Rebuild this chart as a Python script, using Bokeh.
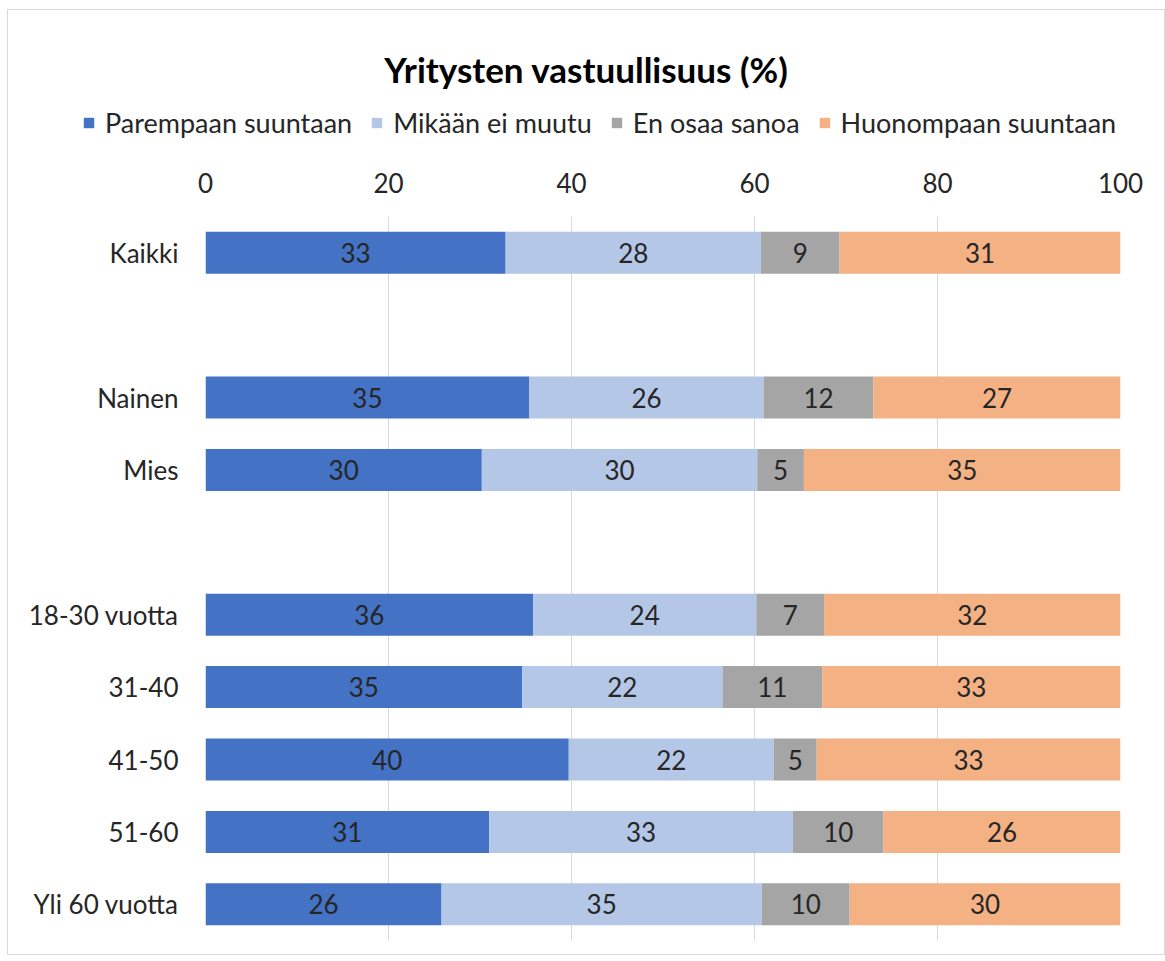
from bokeh.plotting import figure
from bokeh.layouts import column
from bokeh.models import (ColumnDataSource, Legend, LegendItem, FixedTicker, Range1d, LabelSet)
from bokeh.core.properties import value
from bokeh.embed import file_html
from bokeh.resources import INLINE

# ---- data ----
groups = [["Kaikki"], ["Nainen", "Mies"],
          ["18-30 vuotta", "31-40", "41-50", "51-60", "Yli 60 vuotta"]]
series = ["Parempaan suuntaan", "Mikään ei muutu", "En osaa sanoa", "Huonompaan suuntaan"]
parempaan = [32.8, 35.4, 30.2, 35.8, 34.6, 39.7, 31.0, 25.8]
mikaan = [27.9, 25.6, 30.1, 24.4, 21.9, 22.4, 33.2, 35.0]
en_osaa = [8.6, 12.0, 5.1, 7.4, 10.9, 4.7, 9.9, 9.6]
huonompaan = [30.7, 27.0, 34.6, 32.4, 32.6, 33.2, 25.9, 29.6]
x_ticks = [0, 20, 40, 60, 80, 100]
title_text = "Yritysten vastuullisuus (%)"

colors = ["#4472C4", "#B4C7E7", "#A5A5A5", "#F4B183"]
FONT = "Lato"
TXT = "#262626"
FS = "26px"

# derived row positions: one empty row between groups
cats, ypos = [], []
slot = 0
for gi, g in enumerate(groups):
    if gi > 0:
        slot += 1
    for c in g:
        cats.append(c)
        ypos.append(slot)
        slot += 1
n_slots = slot

vals = [parempaan, mikaan, en_osaa, huonompaan]
keys = ["s0", "s1", "s2", "s3"]
data = {"y": ypos, "cat": cats}
for k, v in zip(keys, vals):
    data[k] = v
src = ColumnDataSource(data)

W = 1156

# ---------- header: title + legend ----------
head = figure(width=W, height=147, output_backend="svg", toolbar_location=None,
              x_range=Range1d(0, 1), y_range=Range1d(0, 1),
              x_axis_location=None, y_axis_location=None,
              min_border_left=0, min_border_right=0, min_border_bottom=0, min_border_top=79)
head.frame_align = False
head.grid.visible = False
head.outline_line_color = None
head.title.text = title_text
head.title.align = "center"
head.title.offset = -3
head.title.text_font = FONT
head.title.text_font_size = "35px"
head.title.text_font_style = "bold"
head.title.text_color = "#000000"
head.title.standoff = 0

# hidden copies of the series, used only for the legend swatches
leg_r = head.hbar_stack(keys, y="y", height=0.58, color=colors, line_color=None, source=src)
for r in leg_r:
    r.visible = False
legend = Legend(items=[LegendItem(label=s, renderers=[r]) for s, r in zip(series, leg_r)],
                orientation="horizontal", location=(74, 18),
                label_text_font=FONT, label_text_font_size="27px", label_text_color=TXT,
                glyph_width=13, glyph_height=13, label_standoff=10, spacing=18,
                inactive_fill_alpha=0,
                border_line_color=None, background_fill_alpha=0, padding=0, margin=0)
head.add_layout(legend, "center")

# ---------- main chart ----------
p = figure(frame_width=915, frame_height=724, output_backend="svg", toolbar_location=None,
           x_range=Range1d(0, 100), y_range=Range1d(n_slots - 0.5, -0.5),
           x_axis_location="above",
           min_border_left=197, min_border_right=W - 197 - 915, min_border_bottom=14,
           min_border_top=59)
p.frame_align = False

p.hbar_stack(keys, y="y", height=0.58, color=colors, line_color=None, source=src)

# labels
lx, ly, lt = [], [], []
for i in range(len(cats)):
    left = 0.0
    for v in vals:
        v_i = v[i]
        lx.append(left + v_i / 2)
        ly.append(ypos[i])
        lt.append(str(int(v_i + 0.5)))
        left += v_i
lsrc = ColumnDataSource(dict(x=lx, y=ly, t=lt))
p.add_layout(LabelSet(x="x", y="y", text="t", source=lsrc, text_align="center",
                      text_baseline="middle", text_font=value(FONT), text_font_size=FS,
                      text_color=TXT))

xa = p.xaxis[0]
xa.ticker = FixedTicker(ticks=x_ticks)
xa.axis_line_color = None
xa.major_tick_line_color = None
xa.minor_tick_line_color = None
xa.major_tick_out = 0
xa.major_tick_in = 0
xa.major_label_standoff = 24
xa.major_label_text_font = FONT
xa.major_label_text_font_size = FS
xa.major_label_text_color = TXT

ya = p.yaxis[0]
ya.ticker = FixedTicker(ticks=ypos)
ya.major_label_overrides = {y: c for y, c in zip(ypos, cats)}
ya.axis_line_color = None
ya.major_tick_line_color = None
ya.minor_tick_line_color = None
ya.major_tick_out = 0
ya.major_tick_in = 0
ya.major_label_standoff = 27
ya.major_label_text_font = FONT
ya.major_label_text_font_size = FS
ya.major_label_text_color = TXT

p.xgrid.ticker = FixedTicker(ticks=x_ticks)
p.xgrid.grid_line_color = "#D9D9D9"
p.ygrid.grid_line_color = None
p.outline_line_color = None

layout = column(head, p, spacing=0)
layout.styles = {"border": "1px solid #D9D9D9", "margin-left": "7px", "margin-top": "9px"}

open("out.html", "w").write(file_html(layout, INLINE))
